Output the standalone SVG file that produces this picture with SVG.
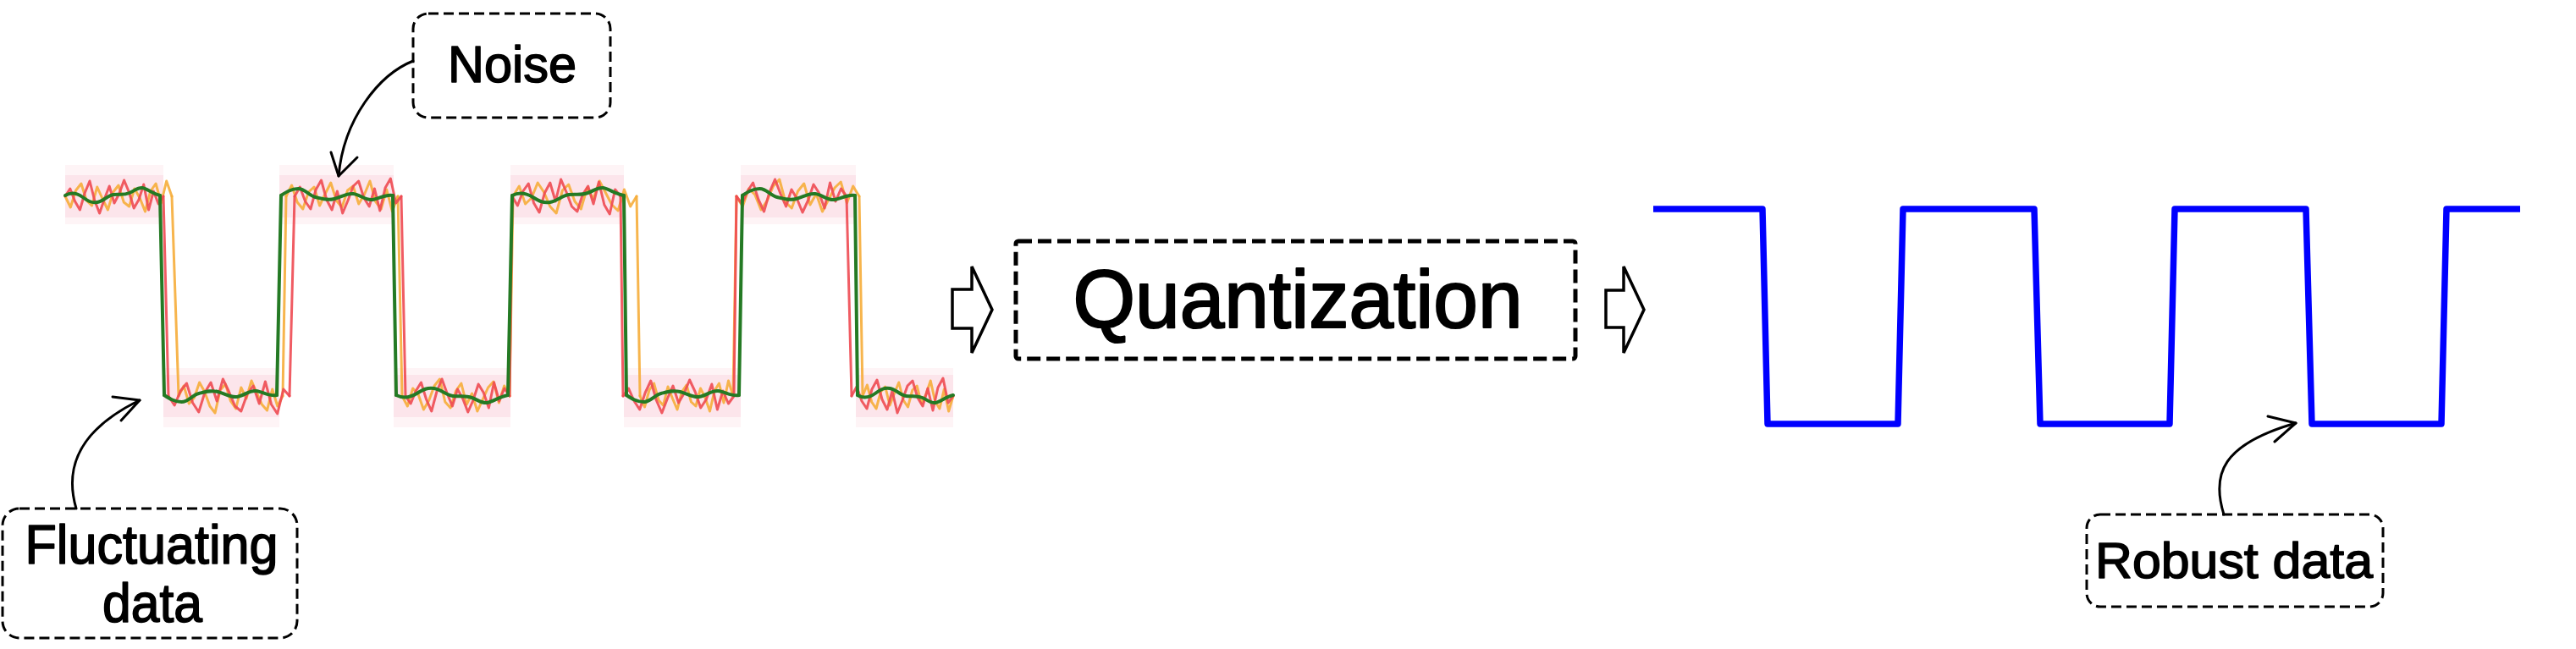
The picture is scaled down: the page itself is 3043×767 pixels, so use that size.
<svg xmlns="http://www.w3.org/2000/svg" xmlns:xlink="http://www.w3.org/1999/xlink" width="3043" height="767" viewBox="0 0 3043 767">
<style>
.lbl{font-family:"Liberation Sans","DejaVu Sans",sans-serif;fill:#000;stroke:#000;stroke-width:1.6;stroke-linejoin:round;text-anchor:middle}
.dbox{fill:#fff;stroke:#000;stroke-width:3;stroke-dasharray:12 6}
.conn{fill:none;stroke:#000;stroke-width:3;stroke-linecap:round;stroke-linejoin:round}
.blk{fill:#fff;stroke:#000;stroke-width:3.5;stroke-linejoin:miter}
.red{fill:none;stroke:#ee4a52;stroke-width:3;stroke-linejoin:round;stroke-linecap:round;stroke-opacity:0.9}
.org{fill:none;stroke:#f6ad3a;stroke-width:3;stroke-linejoin:round;stroke-linecap:round;stroke-opacity:0.9}
.grn{fill:none;stroke:#247a24;stroke-width:4;stroke-linejoin:round;stroke-linecap:round}
.bandf{fill:#fef4f6}
.band{fill:#fce5eb}
</style>
<defs>
<polyline id="r1" vector-effect="non-scaling-stroke" points="0,0 6.5,-9 13,6 19.5,16 26,-4 32.5,-18 39,5 45.5,20 52,3 58.5,-12 65,8 71.5,-3 78,-19 84.5,-5 91,14 97.5,4 104,-14 110.5,16 117,-6 123.5,9 130,0"/>
<polyline id="r2" vector-effect="non-scaling-stroke" points="0,0 6.5,11 13,-6 19.5,-15 26,8 32.5,19 39,-4 45.5,-16 52,6 58.5,-20 65,-5 71.5,12 78,18 84.5,-2 91,-12 97.5,9 104,-17 110.5,10 117,21 123.5,-8 130,0"/>
<polyline id="o1" vector-effect="non-scaling-stroke" points="0,0 6.5,13 13,-7 19.5,-15 26,5 32.5,11 39,-11 45.5,3 52,16 58.5,-5 65,-13 71.5,7 78,12 84.5,-9 91,2 97.5,18 104,-6 110.5,-15 117,8 123.5,-18 130,0"/>
<polyline id="o2" vector-effect="non-scaling-stroke" points="0,0 6.5,-12 13,9 19.5,2 26,-16 32.5,-5 39,12 45.5,20 52,-7 58.5,-14 65,6 71.5,15 78,-10 84.5,3 91,-18 97.5,-4 104,10 110.5,17 117,-8 123.5,12 130,0"/>
<path id="ga" vector-effect="non-scaling-stroke" d="M0,0 C8,-4 16,-3 24,2 S36,9 44,8 S58,0 66,-1 S80,0 88,-3 S100,-10 106,-9 S120,-2 130,0"/>
<path id="gb" vector-effect="non-scaling-stroke" d="M0,0 C6,4 12,8 20,8 S32,0 40,-2 S54,-6 62,-4 S76,3 84,2 S98,-6 106,-5 S122,2 130,0"/>
</defs>

<g id="signal-noisy">
  <g id="bands">
    <rect class="bandf" x="77" y="195" width="116" height="70"/>
    <rect class="bandf" x="193" y="435" width="137" height="70"/>
    <rect class="bandf" x="330" y="195" width="135" height="70"/>
    <rect class="bandf" x="465" y="435" width="138" height="70"/>
    <rect class="bandf" x="603" y="195" width="134" height="70"/>
    <rect class="bandf" x="737" y="435" width="138" height="70"/>
    <rect class="bandf" x="875" y="195" width="136" height="70"/>
    <rect class="bandf" x="1011" y="435" width="115" height="70"/>
    <rect class="band" x="77" y="207" width="116" height="50"/>
    <rect class="band" x="193" y="443" width="137" height="50"/>
    <rect class="band" x="330" y="207" width="135" height="50"/>
    <rect class="band" x="465" y="443" width="138" height="50"/>
    <rect class="band" x="603" y="207" width="134" height="50"/>
    <rect class="band" x="737" y="443" width="138" height="50"/>
    <rect class="band" x="875" y="207" width="136" height="50"/>
    <rect class="band" x="1011" y="443" width="115" height="50"/>
  </g>
  <g id="orange-trace" class="org">
    <use xlink:href="#o1" href="#o1" transform="translate(77,232) scale(0.969,1)"/>
    <use xlink:href="#o2" href="#o2" transform="translate(211,468) scale(0.946,1)"/>
    <use xlink:href="#o1" href="#o1" transform="translate(338,232) scale(1.015,-1)"/>
    <use xlink:href="#o2" href="#o2" transform="translate(475,468) scale(0.977,-1)"/>
    <use xlink:href="#o2" href="#o2" transform="translate(606,232) scale(1.123,1)"/>
    <use xlink:href="#o1" href="#o1" transform="translate(756,468) scale(0.846,1)"/>
    <use xlink:href="#o2" href="#o2" transform="translate(870,232) scale(1.115,-1)"/>
    <use xlink:href="#o1" href="#o1" transform="translate(1019,468) scale(0.823,-1)"/>
    <path d="M203,232 L211,468 M334,468 L338,232 M470,232 L475,468 M602,468 L606,232 M752,232 L756,468 M866,468 L870,232 M1015,232 L1019,468"/>
  </g>
  <g id="red-trace" class="red">
    <use xlink:href="#r1" href="#r1" transform="translate(77,232) scale(0.892,1)"/>
    <use xlink:href="#r2" href="#r2" transform="translate(199,468) scale(1.1,1)"/>
    <use xlink:href="#r2" href="#r2" transform="translate(348,232) scale(0.969,-1)"/>
    <use xlink:href="#r1" href="#r1" transform="translate(479,468) scale(0.946,-1)"/>
    <use xlink:href="#r2" href="#r2" transform="translate(605,232) scale(0.985,1)"/>
    <use xlink:href="#r1" href="#r1" transform="translate(736,468) scale(1.008,1)"/>
    <use xlink:href="#r1" href="#r1" transform="translate(870,232) scale(1,-1)"/>
    <use xlink:href="#r2" href="#r2" transform="translate(1006,468) scale(0.923,-1)"/>
    <path d="M193,232 L199,468 M342,468 L348,232 M474,232 L479,468 M602,468 L605,232 M733,232 L736,468 M867,468 L870,232 M1000,232 L1006,468"/>
  </g>
  <g id="green-trace" class="grn">
    <use xlink:href="#ga" href="#ga" transform="translate(77,231) scale(0.862,1)"/>
    <use xlink:href="#gb" href="#gb" transform="translate(194,467) scale(1.023,1)"/>
    <use xlink:href="#gb" href="#gb" transform="translate(332,231) scale(1.015,-1)"/>
    <use xlink:href="#ga" href="#ga" transform="translate(468,467) scale(1.015,-1)"/>
    <use xlink:href="#ga" href="#ga" transform="translate(605,231) scale(1.015,1)"/>
    <use xlink:href="#gb" href="#gb" transform="translate(740,467) scale(1.023,1)"/>
    <use xlink:href="#gb" href="#gb" transform="translate(877,231) scale(1.023,-1)"/>
    <use xlink:href="#ga" href="#ga" transform="translate(1013,467) scale(0.869,-1)"/>
    <path d="M189,231 L194,467 M327,467 L332,231 M464,231 L468,467 M600,467 L605,231 M737,231 L740,467 M873,467 L877,231 M1010,231 L1013,467"/>
  </g>
</g>

<g id="signal-clean">
  <polyline fill="none" stroke="#0000ff" stroke-width="7.5" stroke-linejoin="round" points="1953,247 2082,247 2088,501 2242,501 2248,247 2403,247 2410,501 2563,501 2569,247 2724,247 2731,501 2884,501 2890,247 2977,247"/>
</g>

<g id="node-noise">
  <rect class="dbox" x="488" y="16" width="233" height="123" rx="18"/>
  <text class="lbl" x="605" y="97" font-size="62" textLength="152" lengthAdjust="spacingAndGlyphs">Noise</text>
</g>

<g id="node-fluctuating">
  <rect class="dbox" x="3" y="601" width="348" height="153" rx="20"/>
  <text class="lbl" x="179" y="666" font-size="64" textLength="299" lengthAdjust="spacingAndGlyphs">Fluctuating</text>
  <text class="lbl" x="180" y="735" font-size="64" textLength="118" lengthAdjust="spacingAndGlyphs">data</text>
</g>

<g id="node-quantization">
  <rect x="1200" y="285" width="661" height="139" rx="3" fill="#fff" stroke="#000" stroke-width="5" stroke-dasharray="16 7"/>
  <text class="lbl" x="1533" y="387" font-size="96" textLength="531" lengthAdjust="spacingAndGlyphs" style="stroke-width:2.2">Quantization</text>
</g>

<g id="node-robust">
  <rect class="dbox" x="2465" y="608" width="350" height="109" rx="16"/>
  <text class="lbl" x="2639" y="683" font-size="60" textLength="328" lengthAdjust="spacingAndGlyphs">Robust data</text>
</g>

<g id="connectors">
  <path class="conn" d="M488,72 C448,88 406,140 400,208"/>
  <polyline class="conn" points="391,180 400,208 422,186"/>
  <path class="conn" d="M90,601 C78,560 85,512 165,473"/>
  <polyline class="conn" points="133,469 165,473 143,497"/>
  <path class="conn" d="M2627,608 C2612,560 2625,525 2712,500"/>
  <polyline class="conn" points="2679,492 2712,500 2687,522"/>
  <polygon class="blk" points="1125,342 1148,342 1148,315 1172,366 1148,417 1148,388 1125,388"/>
  <polygon class="blk" points="1897,343 1918,343 1918,315 1942,366 1918,417 1918,387 1897,387"/>
</g>
</svg>
